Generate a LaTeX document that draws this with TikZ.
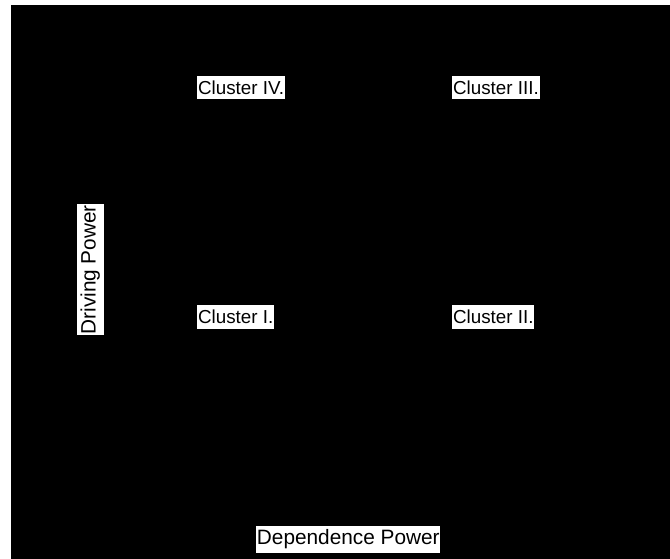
\documentclass[tikz,border=0pt]{standalone}
\usepackage{fontspec}
\setmainfont{Liberation Sans}
\usepackage{tikz}

\tikzset{
  clusterlbl/.style={fill=white, anchor=west, inner xsep=0.6pt, inner ysep=0pt, minimum height=17.6pt, font=\fontsize{14.1}{16}\selectfont},
  axislbl/.style={fill=white, inner xsep=0.6pt, inner ysep=0pt, minimum height=20pt, font=\fontsize{15.6}{18}\selectfont}
}

\begin{document}
\begin{tikzpicture}[x=0.75pt,y=0.75pt,yscale=-1,xscale=1]
\useasboundingbox (0,0) rectangle (670,559);
\fill[white] (0,0) rectangle (670,559);

%Shape: Rectangle [id:matrix area]
\fill[black] (10.7,5) rectangle (670,559);

% Text Node
\node (c4) [clusterlbl] at (197,87.7) {Cluster IV.};
% Text Node
\node (c3) [clusterlbl] at (452,87.7) {Cluster III.};
% Text Node
\node (c1) [clusterlbl] at (197,317) {Cluster I.};
% Text Node
\node (c2) [clusterlbl] at (452,317) {Cluster II.};

% Text Node
\node (drv) [axislbl, rotate=90] at (90.3,269.8) {Driving Power};
% Text Node
\node (dep) [axislbl] at (348.3,539.3) {Dependence Power};

\end{tikzpicture}
\end{document}
